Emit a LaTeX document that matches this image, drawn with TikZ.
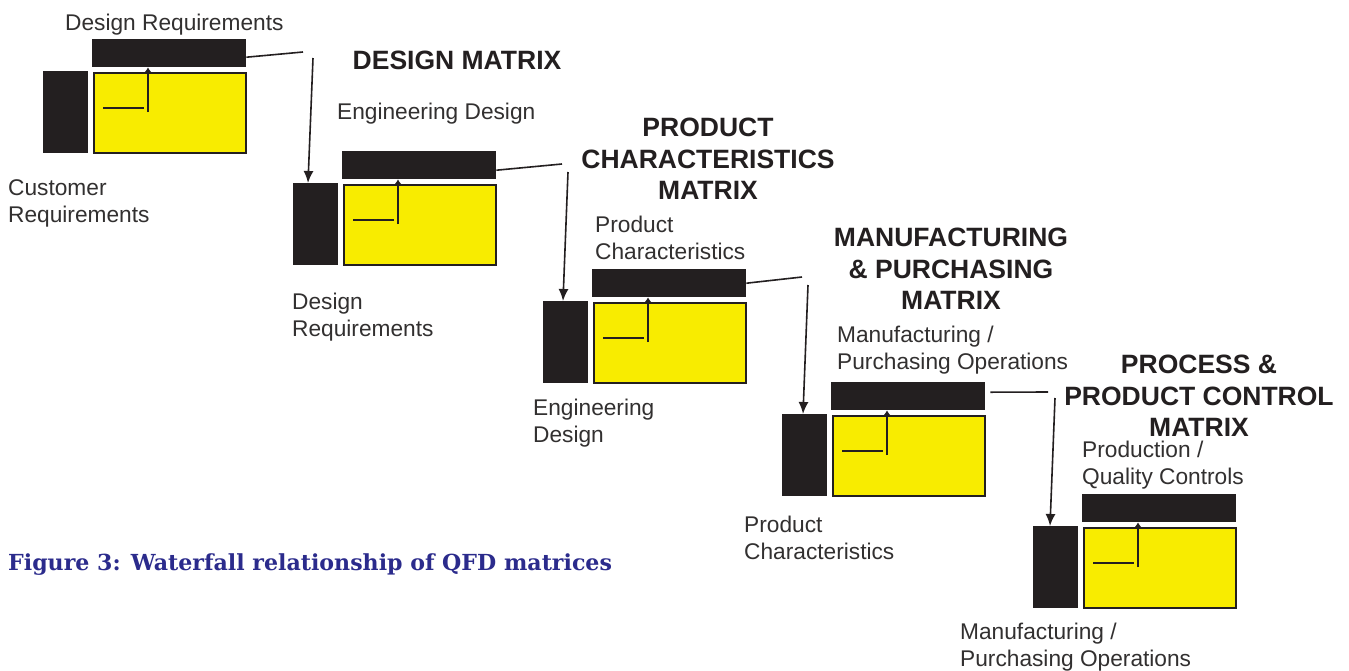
\documentclass[tikz,border=0pt]{standalone}
\usepackage{fontspec}
\setmainfont{Liberation Sans}
\newfontfamily\captionserif{DejaVu Serif}
\usetikzlibrary{arrows.meta}

\definecolor{matrixyellow}{RGB}{248,236,0}
\definecolor{barblack}{RGB}{35,31,32}
\definecolor{labelgrey}{RGB}{50,48,48}
\definecolor{captionblue}{RGB}{43,43,140}

\tikzset{
  leftbar/.style={fill=barblack, anchor=north west, inner sep=0, minimum width=45pt, minimum height=82pt},
  topbar/.style={fill=barblack, anchor=north west, inner sep=0, minimum width=154pt, minimum height=28pt},
  body/.style={draw=barblack, line width=2pt, fill=matrixyellow, anchor=north west, inner sep=0, minimum width=152pt, minimum height=80pt},
  link/.style={line width=1.6pt, color=barblack},
  linktip/.style={-{Latex[length=12pt,width=10pt]}},
  lbl/.style={anchor=north west, inner sep=0, align=left, text=labelgrey, font=\fontsize{22.7}{27}\selectfont},
  title/.style={anchor=north, inner sep=0, align=center, text=barblack, font=\fontsize{26.5}{31.5}\selectfont\bfseries},
}

% one QFD matrix: name, top left corner of the row block
\newcommand{\qfdmatrix}[3]{%
  \node[leftbar] (#1-l) at (#2,#3) {};
  \node[topbar] (#1-t) at (#2+49,#3-32) {};
  \node[body] (#1-b) at (#2+50,#3+1) {};
  \draw[line width=2.2pt, color=barblack] ([shift={(10,36)}]#1-b.north west) -- ++(41,0);
  \draw[line width=2.2pt, color=barblack, -{Latex[length=6pt,width=9pt]}]
    ([shift={(55,40)}]#1-b.north west) -- ([xshift=56pt]#1-t.south west);
}

\begin{document}
\begin{tikzpicture}[x=1pt,y=-1pt]
  \fill[white] (0,0) rectangle (1349,670);
  \useasboundingbox (0,0) rectangle (1349,670);

  %%% matrices
  \qfdmatrix{m1}{43}{71}
  \qfdmatrix{m2}{293}{183}
  \qfdmatrix{m3}{543}{301}
  \qfdmatrix{m4}{782}{414}
  \qfdmatrix{m5}{1033}{526}

  %%% waterfall links
  \coordinate (k1) at (303,52);   \coordinate (h1) at (313,58);
  \coordinate (k2) at (562,164);  \coordinate (h2) at (568,172);
  \coordinate (k3) at (802,277);  \coordinate (h3) at (808,285);
  \coordinate (k4) at (1048,392); \coordinate (h4) at (1055,398);

  \draw[link] ([yshift=-4pt]m1-t.east) -- (k1);
  \draw[link,linktip] (h1) -- ([xshift=15pt]m2-l.north west);
  \draw[link] ([yshift=-5pt]m2-t.east) -- (k2);
  \draw[link,linktip] (h2) -- ([xshift=20pt]m3-l.north west);
  \draw[link] (m3-t.east) -- (k3);
  \draw[link,linktip] (h3) -- ([xshift=21pt]m4-l.north west);
  \draw[link] ([xshift=5pt,yshift=4pt]m4-t.east) -- (k4);
  \draw[link,linktip] (h4) -- ([xshift=17pt]m5-l.north west);

  %%% row and column labels
  \node[lbl] (top1) at (65,14) {Design Requirements};
  \node[lbl] (side1) at (8,179) {Customer\\Requirements};
  \node[lbl] (top2) at (337,103) {Engineering Design};
  \node[lbl] (side2) at (292,293) {Design\\Requirements};
  \node[lbl] (top3) at (595,216) {Product\\Characteristics};
  \node[lbl] (side3) at (533,399) {Engineering\\Design};
  \node[lbl] (top4) at (837,326) {Manufacturing /\\Purchasing Operations};
  \node[lbl] (side4) at (744,516) {Product\\Characteristics};
  \node[lbl] (top5) at (1082,441) {Production /\\Quality Controls};
  \node[lbl] (side5) at (960,623) {Manufacturing /\\Purchasing Operations};

  %%% matrix titles
  \node[title] (t1) at (457,51) {DESIGN MATRIX};
  \node[title] (t2) at (708,118) {PRODUCT\\CHARACTERISTICS\\MATRIX};
  \node[title] (t3) at (951,228) {MANUFACTURING\\\& PURCHASING\\MATRIX};
  \node[title] (t4) at (1199,355) {PROCESS \&\\PRODUCT CONTROL\\MATRIX};

  %%% caption
  \node[anchor=base west, inner sep=0, text=captionblue,
        font=\captionserif\bfseries\fontsize{22.1}{26}\selectfont] (cap) at (8,570)
        {Figure 3: Waterfall relationship of QFD matrices};
\end{tikzpicture}
\end{document}
